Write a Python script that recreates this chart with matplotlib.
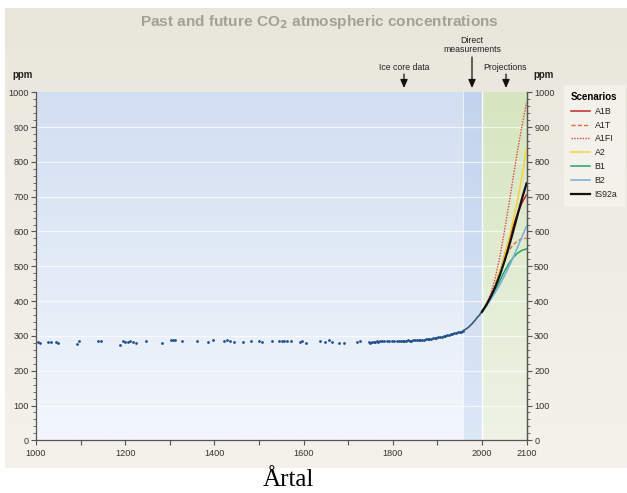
import numpy as np
import matplotlib
matplotlib.use("Agg")
import matplotlib.pyplot as plt
from matplotlib.colors import to_rgb

plt.rcParams['font.family'] = ['Liberation Sans', 'DejaVu Sans']

# ---------------- data ----------------
ice_years = [1005, 1009, 1028, 1033, 1045, 1050, 1091, 1096, 1140, 1146, 1189, 1196, 1200,
             1206, 1211, 1217, 1224, 1247, 1282, 1302, 1307, 1312, 1328, 1362, 1386, 1398,
             1422, 1428, 1434, 1443, 1465, 1482, 1499, 1506, 1529, 1546, 1551, 1557, 1563,
             1572, 1591, 1596, 1606, 1636, 1649, 1656, 1664, 1679, 1690, 1720, 1727, 1746,
             1750, 1754, 1758, 1761, 1765, 1768, 1772, 1776, 1780, 1787, 1792, 1798, 1803,
             1810, 1814, 1818, 1822, 1826, 1830, 1834, 1838, 1842, 1846, 1850, 1854, 1858,
             1862, 1866, 1870, 1874, 1878, 1882, 1886, 1890, 1894, 1898, 1902, 1906, 1910,
             1914, 1918, 1922, 1926, 1930, 1934, 1938, 1942, 1946, 1950, 1954, 1957]
ice_ppm = [283, 280, 283, 283, 283, 280, 278, 284, 285, 285, 274, 285, 282,
           283, 284, 283, 279, 284, 281, 287, 288, 287, 285, 284, 283, 289,
           286, 288, 284, 283, 282, 284, 284, 283, 285, 285, 285, 285, 284,
           284, 283, 284, 280, 284, 283, 287, 283, 280, 279, 282, 285, 282,
           281, 282, 283, 282, 284, 283, 284, 285, 285, 285, 284, 284, 285,
           284, 286, 285, 285, 286, 285, 287, 286, 286, 288, 287, 287, 288,
           289, 288, 289, 290, 291, 291, 292, 293, 294, 295, 296, 297, 298,
           300, 300, 302, 303, 305, 306, 307, 309, 310, 311, 312, 314]

direct_years = [1958, 1962, 1966, 1970, 1974, 1978, 1982, 1986, 1990, 1994, 1998, 2000]
direct_ppm = [315, 318, 321, 325, 330, 335, 341, 347, 354, 359, 366, 369]

proj_years = [2000, 2010, 2020, 2030, 2040, 2050, 2060, 2070, 2080, 2090, 2100]
scen_A1B = [369, 389, 413, 443, 481, 527, 573, 615, 652, 683, 705]
scen_A1T = [369, 390, 415, 448, 484, 518, 544, 562, 573, 579, 581]
scen_A1FI = [369, 392, 422, 467, 526, 597, 674, 754, 833, 904, 970]
scen_A2 = [369, 388, 412, 444, 483, 528, 577, 631, 690, 759, 840]
scen_B1 = [369, 387, 409, 433, 458, 484, 507, 525, 538, 546, 550]
scen_B2 = [369, 386, 405, 425, 447, 471, 497, 525, 555, 585, 615]
scen_IS92a = [369, 389, 413, 441, 474, 512, 554, 600, 648, 695, 738]

xtick_vals = [1000, 1200, 1400, 1600, 1800, 2000, 2100]
ytick_vals = [0, 100, 200, 300, 400, 500, 600, 700, 800, 900, 1000]

# ---------------- figure ----------------
W, H = 627, 493
fig = plt.figure(figsize=(W / 100, H / 100), dpi=100)
fig.patch.set_facecolor('white')

def fx(x):
    return x / W

def fy(y):
    return 1 - y / H

def vgrad(c_top, c_bot, n=200):
    a, b = np.array(to_rgb(c_top)), np.array(to_rgb(c_bot))
    tt = np.linspace(0, 1, n)[:, None, None]
    return a[None, None, :] * (1 - tt) + b[None, None, :] * tt

# beige panel with slight vertical gradient
bg_ax = fig.add_axes([fx(5), fy(468), 1 - fx(5), fy(8) - fy(468)], zorder=-10)
bg_ax.imshow(vgrad('#e9e6dc', '#f4f2ea'), aspect='auto', extent=[0, 1, 0, 1], origin='upper')
bg_ax.axis('off')

ax = fig.add_axes([fx(36), fy(440.3), fx(526.5) - fx(36), fy(92.3) - fy(440.3)])

ax.imshow(vgrad('#d2def1', '#f3f7fd'), aspect='auto', extent=[1000, 1958, 0, 1000],
          origin='upper', zorder=0)
ax.imshow(vgrad('#c2d3ed', '#dde8f7'), aspect='auto', extent=[1958, 2000, 0, 1000],
          origin='upper', zorder=0)
ax.imshow(vgrad('#d6e5bf', '#eef3e5'), aspect='auto', extent=[2000, 2100, 0, 1000],
          origin='upper', zorder=0)
ax.set_xlim(1000, 2100)
ax.set_ylim(0, 1000)

for yv in ytick_vals[1:-1]:
    ax.axhline(yv, color='white', lw=0.9, alpha=0.7, zorder=1)
ax.axvline(1958, color='white', lw=0.8, alpha=0.7, zorder=1)
ax.axvline(2000, color='white', lw=1.0, alpha=0.9, zorder=1)

# data
ax.scatter(ice_years, ice_ppm, s=4, color='#1f4e8c', zorder=3, linewidths=0)
ax.plot(direct_years, direct_ppm, color='#3b5878', lw=1.2, zorder=3)

series = [
    ('A1B', scen_A1B, dict(color='#c2272d', lw=1.1, ls='-')),
    ('A1T', scen_A1T, dict(color='#e8694a', lw=1.0, ls=(0, (3, 1.5)))),
    ('A1FI', scen_A1FI, dict(color='#e0453d', lw=1.0, ls=(0, (1, 1)))),
    ('A2', scen_A2, dict(color='#f2d33a', lw=1.1, ls='-')),
    ('B1', scen_B1, dict(color='#27a45f', lw=1.1, ls='-')),
    ('B2', scen_B2, dict(color='#72aee0', lw=1.1, ls='-')),
    ('IS92a', scen_IS92a, dict(color='#111111', lw=1.6, ls='-')),
]
handles = []
for name, vals, st in series:
    h, = ax.plot(proj_years, vals, label=name, zorder=4, **st)
    handles.append(h)

# axes styling
spc = '#555555'
ax.spines['top'].set_visible(False)
for s in ['left', 'right', 'bottom']:
    ax.spines[s].set_color(spc)
    ax.spines[s].set_linewidth(0.9)

ax.set_xticks(list(range(1000, 2101, 100)))
ax.set_xticklabels([str(v) if v in xtick_vals else '' for v in range(1000, 2101, 100)])
ax.set_yticks(ytick_vals)
ax.set_yticks(list(range(0, 1001, 20)), minor=True)
ax.tick_params(axis='both', which='major', direction='out', length=3.5, width=0.8,
               color=spc, labelsize=6.6, labelcolor='#333333', pad=1.5)
ax.tick_params(axis='y', which='minor', direction='out', length=2, width=0.6, color=spc)
ax.tick_params(axis='x', pad=3)

ax2 = ax.twinx()
ax2.set_ylim(0, 1000)
ax2.set_yticks(ytick_vals)
ax2.set_yticks(list(range(0, 1001, 20)), minor=True)
ax2.tick_params(axis='y', which='major', direction='out', length=3.5, width=0.8,
                color=spc, labelsize=6.6, labelcolor='#333333', pad=2)
ax2.tick_params(axis='y', which='minor', direction='out', length=2, width=0.6, color=spc)
for s in ['top', 'left', 'bottom']:
    ax2.spines[s].set_visible(False)
ax2.spines['right'].set_color(spc)
ax2.spines['right'].set_linewidth(0.9)

# texts
fig.text(fx(319), fy(26), 'Past and future CO$_\\mathbf{2}$ atmospheric concentrations',
         ha='center', va='baseline', fontsize=11.1, fontweight='bold', color='#a3a194')
fig.text(fx(12), fy(75), 'ppm', ha='left', va='center', fontsize=7, fontweight='bold',
         color='#222222')
fig.text(fx(533), fy(75), 'ppm', ha='left', va='center', fontsize=7, fontweight='bold',
         color='#222222')

arrowkw = dict(arrowstyle='-|>,head_length=0.5,head_width=0.22', color='#111111', lw=0.9,
               shrinkA=0, shrinkB=0)
fig.text(fx(404), fy(67), 'Ice core data', ha='center', va='center', fontsize=6.3,
         color='#222222')
ax.annotate('', xy=(fx(404), fy(88)), xytext=(fx(404), fy(74)), xycoords='figure fraction',
            textcoords='figure fraction', arrowprops=arrowkw, annotation_clip=False)
fig.text(fx(472), fy(45), 'Direct\nmeasurements', ha='center', va='center', fontsize=6.3,
         color='#222222', linespacing=1.1)
ax.annotate('', xy=(fx(472), fy(88)), xytext=(fx(472), fy(57)), xycoords='figure fraction',
            textcoords='figure fraction', arrowprops=arrowkw, annotation_clip=False)
fig.text(fx(505), fy(67), 'Projections', ha='center', va='center', fontsize=6.3,
         color='#222222')
ax.annotate('', xy=(fx(506), fy(88)), xytext=(fx(506), fy(74)), xycoords='figure fraction',
            textcoords='figure fraction', arrowprops=arrowkw, annotation_clip=False)

leg = fig.legend(handles=handles, loc='upper left', bbox_to_anchor=(fx(564), fy(85)),
                 bbox_transform=fig.transFigure, title='Scenarios', fontsize=6.3,
                 title_fontproperties={'weight': 'bold', 'size': 7}, frameon=True,
                 handlelength=2.2, handletextpad=0.5, labelspacing=0.55,
                 borderpad=0.8, borderaxespad=0, alignment='left', fancybox=False)
leg.get_frame().set_facecolor('#f6f4ee')
leg.get_frame().set_edgecolor('none')
for txt in leg.get_texts():
    txt.set_color('#222222')

fig.text(fx(288), fy(480), 'Årtal', ha='center', va='center', fontsize=18,
         family=['Liberation Serif', 'DejaVu Serif'], color='black')

fig.savefig('out.png', dpi=100)
